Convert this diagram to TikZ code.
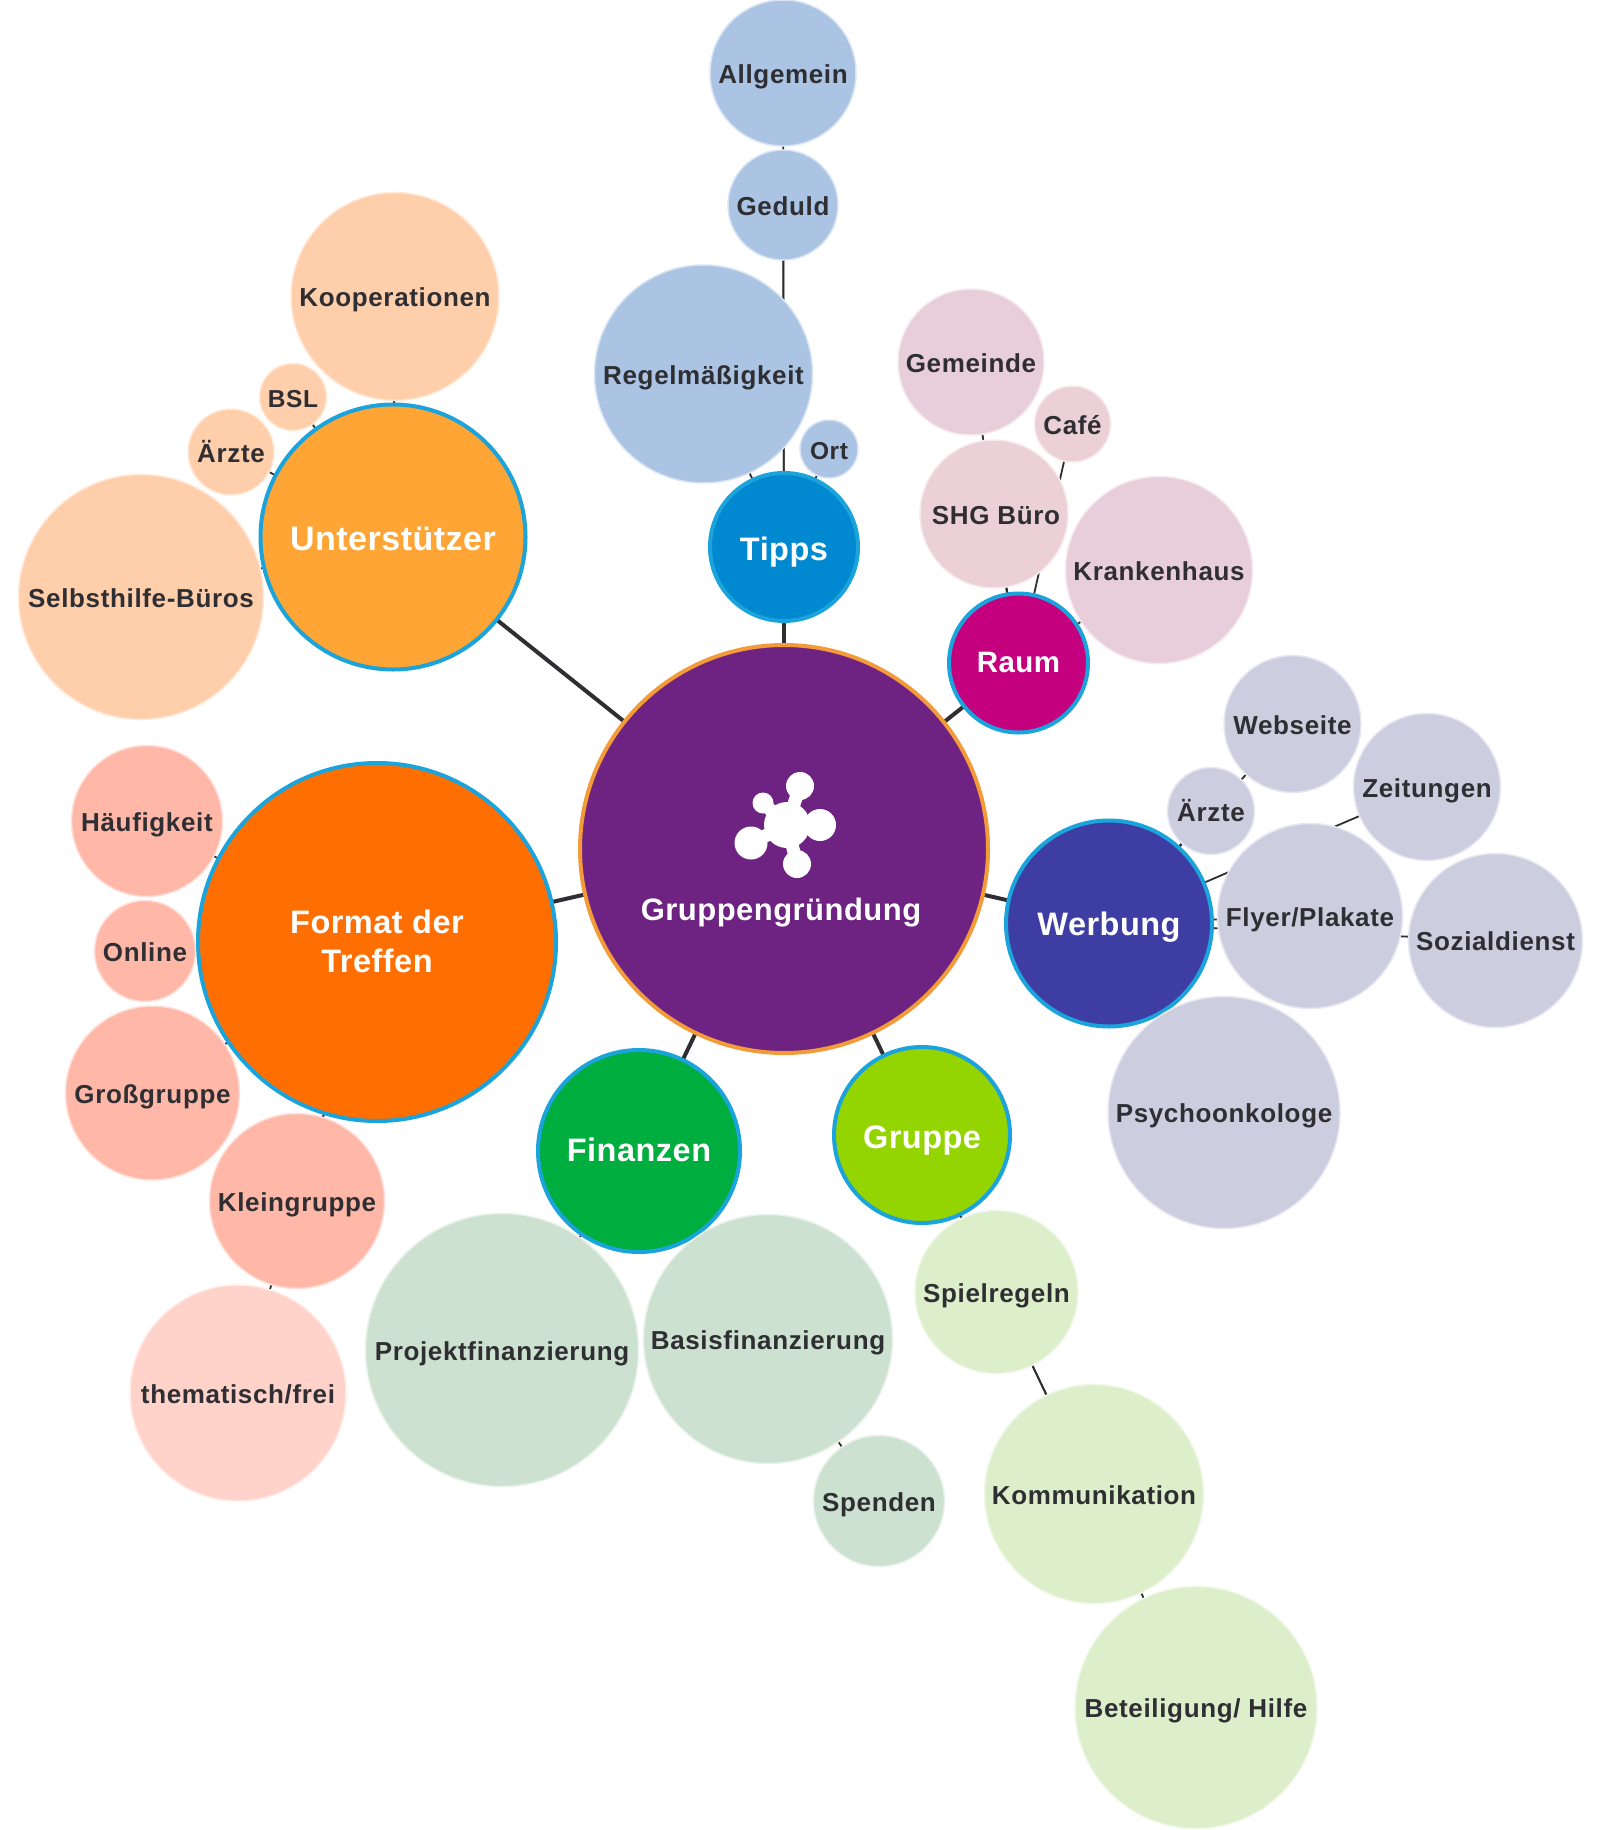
\documentclass[tikz,border=0pt]{standalone}
\usepackage{fontspec}
\setmainfont{Liberation Sans}
\usetikzlibrary{backgrounds}
\definecolor{inkdark}{HTML}{2E2E33}
\definecolor{ringblue}{HTML}{1BA3DB}
\definecolor{ringorange}{HTML}{F29B38}
\definecolor{hubviolet}{HTML}{6E2382}
\definecolor{tippsblue}{HTML}{0089D0}
\definecolor{tippslight}{HTML}{ABC4E4}
\definecolor{raummag}{HTML}{C5007F}
\definecolor{raumlight}{HTML}{E8CEDB}
\definecolor{raumrose}{HTML}{EBD0D7}
\definecolor{werbblue}{HTML}{3D3DA3}
\definecolor{werblight}{HTML}{CDCDE0}
\definecolor{grupgreen}{HTML}{94D400}
\definecolor{gruplight}{HTML}{DCEECA}
\definecolor{fingreen}{HTML}{00AE3F}
\definecolor{finlight}{HTML}{CCE1CF}
\definecolor{formorange}{HTML}{FF6E00}
\definecolor{formlight}{HTML}{FFB8A8}
\definecolor{formpale}{HTML}{FFD3C9}
\definecolor{untamber}{HTML}{FEA535}
\definecolor{untlight}{HTML}{FFCEAB}
\newcommand{\bigface}[1]{\fontsize{#1}{39}\selectfont\bfseries\addfontfeature{LetterSpace=1.5}}
\newcommand{\smallface}{\fontsize{26}{30}\selectfont\bfseries\addfontfeature{LetterSpace=2.5}}
\newcommand{\tightface}{\fontsize{24.5}{30}\selectfont\bfseries}
\newcommand{\dropamt}{0.39em}
\tikzset{
  x=1pt, y=-1pt,
  bubble/.style={circle, inner sep=0pt, outer sep=0pt},
  drop/.code={\renewcommand{\dropamt}{#1}},
  topic/.style={bubble, draw=ringblue, line width=4pt, text=white, font=\bigface{32.5}, drop=0.4em},
  leaf/.style={bubble, fill=#1, draw=#1!45!white, line width=1.5pt, text=inkdark, font=\smallface},
  trunk/.style={draw=inkdark, line width=4pt},
  twig/.style={draw=inkdark, line width=1.8pt},
}
% #1 name, #2 style, #3 x, #4 y, #5 diameter, #6 label; the label box has no extent of its own,
% so its baseline is placed a fixed distance below the circle's centre
\newcommand{\bub}[6]{\node[#2, minimum size=#5pt] (#1) at (#3,#4)
  {\makebox[0pt]{\raisebox{-\dropamt}[0pt][0pt]{#6}}};}
\begin{document}
\begin{tikzpicture}
\useasboundingbox (0,0) rectangle (1603,1830);

% central hub
\node[bubble, fill=hubviolet, draw=ringorange, line width=4pt, minimum size=408pt] (hub) at (784,849) {};
\node[text=white, font=\bigface{31}, inner sep=0pt] (hublabel) at (781,913) {Gruppengründung};

% first ring of topics
\bub{tipps}{topic, fill=tippsblue}{784}{547}{148}{Tipps}
\bub{raum}{topic, fill=raummag, font=\bigface{29.5}, drop=0.32em}{1018.5}{663}{139}{Raum}
\bub{werbung}{topic, fill=werbblue, drop=0.37em}{1109}{923.5}{206}{Werbung}
\bub{gruppe}{topic, fill=grupgreen}{922}{1135}{176}{Gruppe}
\bub{finanzen}{topic, fill=fingreen, drop=0.33em}{639}{1151}{202}{Finanzen}
\bub{unter}{topic, fill=untamber, font=\bigface{34}}{393}{537}{265}{Unterstützer}
\node[bubble, topic, fill=formorange, minimum size=358pt] (format) at (377,942)
  {\makebox[0pt]{\raisebox{-9pt}[0pt][0pt]{\begin{tabular}{@{}c@{}}Format der\\Treffen\end{tabular}}}};

% leaves of Tipps
\bub{allgemein}{leaf=tippslight}{783}{73}{146}{Allgemein}
\bub{geduld}{leaf=tippslight}{783}{205}{110}{Geduld}
\bub{regel}{leaf=tippslight}{703.5}{374}{218}{Regelmäßigkeit}
\bub{ort}{leaf=tippslight}{829}{449}{58}{\tightface Ort}

% leaves of Raum
\bub{gemeinde}{leaf=raumlight}{971}{362}{146}{Gemeinde}
\bub{cafe}{leaf=raumrose}{1072.5}{424}{76}{Café}
\bub{shg}{leaf=raumrose}{994}{514}{148}{\hspace{4pt}SHG Büro}
\bub{kranken}{leaf=raumlight}{1159}{570}{187}{Krankenhaus}

% leaves of Werbung
\bub{webseite}{leaf=werblight}{1292.5}{724}{137}{Webseite}
\bub{zeitungen}{leaf=werblight}{1427}{787}{147}{Zeitungen}
\bub{aerztew}{leaf=werblight}{1211}{811}{87}{Ärzte}
\bub{flyer}{leaf=werblight}{1310}{916}{185}{Flyer/Plakate}
\bub{sozial}{leaf=werblight}{1495.5}{940.5}{174}{Sozialdienst}
\bub{psycho}{leaf=werblight}{1224}{1112.5}{232}{Psychoonkologe}

% leaves of Gruppe
\bub{spiel}{leaf=gruplight}{996.5}{1292}{163}{Spielregeln}
\bub{komm}{leaf=gruplight}{1094}{1494}{219}{Kommunikation}
\bub{beteil}{leaf=gruplight}{1196}{1707.5}{242}{Beteiligung/ Hilfe}

% leaves of Finanzen
\bub{projekt}{leaf=finlight}{502}{1350}{273}{Projektfinanzierung}
\bub{basis}{leaf=finlight}{768}{1339}{249}{Basisfinanzierung}
\bub{spenden}{leaf=finlight}{879}{1501}{131}{Spenden}

% leaves of Format der Treffen
\bub{haeufig}{leaf=formlight}{147}{821}{151}{Häufigkeit}
\bub{online}{leaf=formlight}{145}{951}{101}{Online}
\bub{gross}{leaf=formlight}{152.5}{1093}{174}{Großgruppe}
\bub{klein}{leaf=formlight}{297}{1201}{175}{Kleingruppe}
\bub{thema}{leaf=formpale}{238}{1393}{216}{thematisch/frei}

% leaves of Unterstützer
\bub{koop}{leaf=untlight}{395}{296.5}{208}{Kooperationen}
\bub{bsl}{leaf=untlight}{293}{397}{67}{\tightface BSL}
\bub{aerzteu}{leaf=untlight}{231}{452}{86}{Ärzte}
\bub{selbst}{leaf=untlight}{141}{597}{245}{Selbsthilfe-Büros}

% connectors run centre to centre underneath all bubbles
\begin{scope}[on background layer]
  \foreach \t in {tipps,raum,werbung,gruppe,finanzen,unter,format}
    \draw[trunk] (hub.center) -- (\t.center);
  \foreach \a/\b in {tipps/allgemein,tipps/geduld,tipps/regel,tipps/ort,
      raum/gemeinde,raum/cafe,raum/shg,raum/kranken,
      werbung/webseite,werbung/zeitungen,werbung/aerztew,werbung/flyer,werbung/sozial,werbung/psycho,
      gruppe/spiel,gruppe/komm,gruppe/beteil,
      finanzen/projekt,finanzen/basis,finanzen/spenden,
      format/haeufig,format/online,format/gross,format/klein,format/thema,
      unter/koop,unter/bsl,unter/aerzteu,unter/selbst}
    \draw[twig] (\a.center) -- (\b.center);
\end{scope}

% molecule emblem inside the hub
\begin{scope}[white]
  \draw[line width=13pt] (800,786) -- (787,825);
  \draw[line width=13pt] (787,825) -- (763,803);
  \draw[line width=13pt] (820,825) -- (787,825);
  \draw[line width=13pt] (787,825) -- (751,843);
  \draw[line width=13pt] (787,825) -- (797,864);
  \fill (787,825) circle[radius=23];
  \fill (800,786) circle[radius=14];
  \fill (763,803) circle[radius=10.5];
  \fill (820,825) circle[radius=16];
  \fill (751,843) circle[radius=16.5];
  \fill (797,864) circle[radius=14];
\end{scope}
\end{tikzpicture}
\end{document}
